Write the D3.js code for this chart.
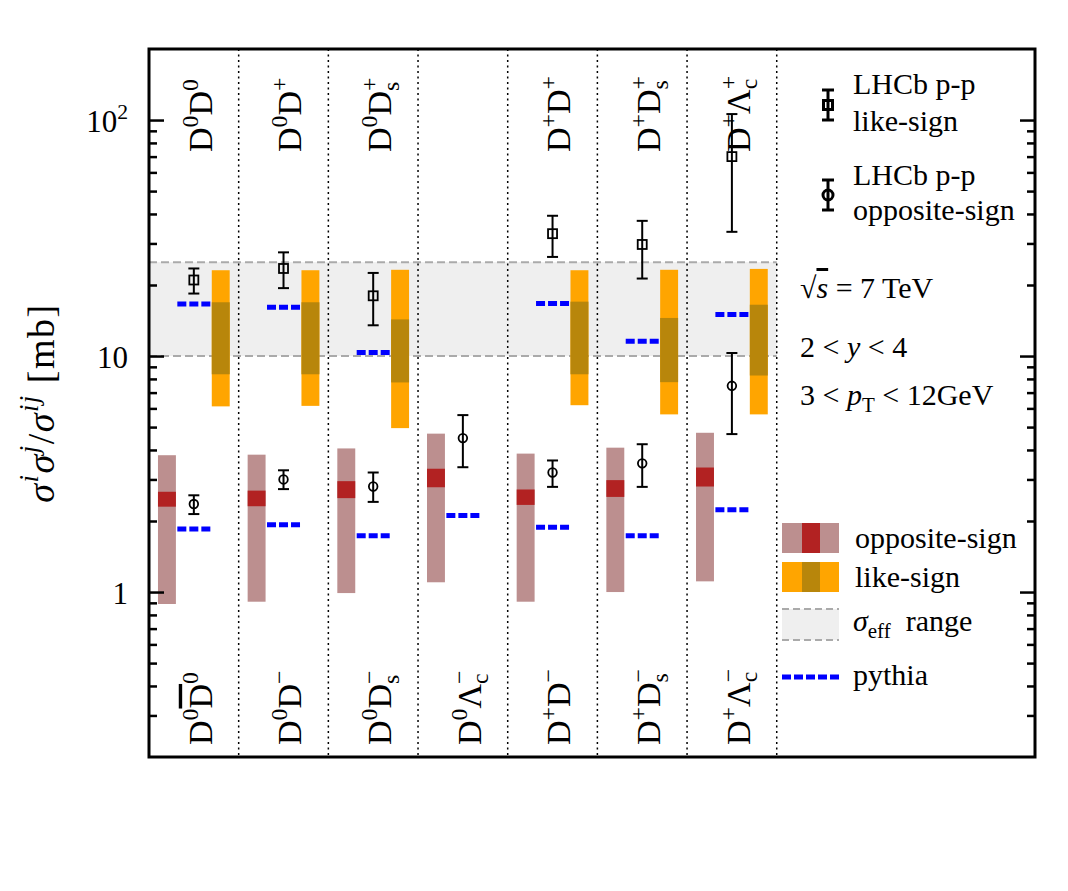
<!DOCTYPE html>
<html>
<head>
<meta charset="utf-8">
<script src="https://cdn.jsdelivr.net/npm/d3@7"></script>
<style>
  body { margin: 0; background: #fff; }
  svg { display: block; }
  text { font-family: 'Liberation Serif', 'DejaVu Serif', serif; white-space: pre; fill: #000; }
</style>
</head>
<body>
<svg width="1068" height="891"></svg>
<script>
// Pair labels per column: ^x superscript, _x subscript (stacked under a preceding superscript), ~x overline
const labelsLike = ['D^0D^0', 'D^0D^+', 'D^0D^+_s', '', 'D^+D^+', 'D^+D^+_s', 'D^+Λ^+_c'];
const labelsOpp = ['D^0~D^0', 'D^0D^−', 'D^0D^−_s', 'D^0Λ^−_c', 'D^+D^−', 'D^+D^−_s', 'D^+Λ^−_c'];

// opposite-sign: LHCb measurement, error range, model band (outer + core), pythia
const oppMeas = [2.36, 3.00, 2.80, 4.49, 3.21, 3.51, 7.48];
const oppErrLo = [2.14, 2.73, 2.41, 3.38, 2.79, 2.79, 4.67];
const oppErrHi = [2.57, 3.28, 3.21, 5.62, 3.61, 4.23, 10.3];
const oppBandLo = [0.89, 0.91, 0.99, 1.10, 0.91, 1.00, 1.11];
const oppBandHi = [3.80, 3.82, 4.06, 4.69, 3.86, 4.09, 4.73];
const oppCoreLo = [2.30, 2.31, 2.50, 2.78, 2.34, 2.53, 2.80];
const oppCoreHi = [2.66, 2.69, 2.95, 3.33, 2.72, 2.98, 3.37];
const oppPythia = [1.85, 1.93, 1.73, 2.11, 1.88, 1.73, 2.23];

// like-sign (no D0 Lambda_c pair)
const likeMeas = [21.0, 23.5, 18.0, null, 33.0, 29.7, 70.0];
const likeErrLo = [18.4, 19.4, 13.5, null, 26.3, 21.3, 33.6];
const likeErrHi = [23.5, 27.5, 22.5, null, 39.3, 37.4, 106];
const likeBandLo = [6.12, 6.15, 4.95, null, 6.19, 5.66, 5.66];
const likeBandHi = [23.1, 23.1, 23.2, null, 23.1, 23.2, 23.4];
const likeCoreLo = [8.37, 8.37, 7.73, null, 8.37, 7.75, 8.27];
const likeCoreHi = [16.9, 16.9, 14.3, null, 17.0, 14.5, 16.5];
const likePythia = [16.6, 16.1, 10.35, null, 16.7, 11.55, 15.0];

const sigmaEff = [10, 25];
const yTicks = [1, 10, 100];
const yTickLabels = ['1', '10', '10^2'];

const svg = d3.select('svg');
const frame = { left: 149, right: 1035, top: 49, bottom: 757 };
const xScale = d3.scaleLinear().domain([0, 9.88]).range([frame.left, frame.right]);
const yScale = d3.scaleLog().domain([0.2, 200]).range([frame.bottom, frame.top]);
const cols = d3.range(7);

function parseLabel(str) {
    const segs = [];
    let over = false;
    for (let i = 0; i < str.length; i++) {
        let c = str[i];
        if (c === '~') { over = true; continue; }
        if (c === '^') { segs.push({ t: str[++i], k: '^' }); continue; }
        if (c === '_') {
            const stacked = segs.length && segs[segs.length - 1].k === '^';
            segs.push({ t: str[++i], k: stacked ? '_|' : '_' });
            continue;
        }
        segs.push({ t: c, k: over ? 'o' : '' });
        over = false;
    }
    return segs;
}

function rich(text, segs, size) {
    let cur = 0, prev = null;
    segs.forEach(s => {
        const k = s.k || '';
        const sup = k.includes('^'), sub = k.includes('_');
        const target = sup ? -0.42 * size : sub ? 0.22 * size : 0;
        const ts = text.append('tspan').text(s.t)
            .attr('dy', target - cur)
            .style('font-size', (sup || sub ? 0.7 * size : size) + 'px')
            .style('font-style', k.includes('i') ? 'italic' : 'normal');
        if (k.includes('o')) ts.style('text-decoration', 'overline');
        if (k.includes('|') && prev) ts.attr('dx', -prev.node().getComputedTextLength());
        prev = ts;
        cur = target;
    });
}

// sigma_eff band
svg.append('rect')
    .attr('x', xScale(0)).attr('width', xScale(7) - xScale(0))
    .attr('y', yScale(sigmaEff[1])).attr('height', yScale(sigmaEff[0]) - yScale(sigmaEff[1]))
    .attr('fill', '#efefef');
svg.selectAll('line.eff')
    .data(sigmaEff)
    .join('line')
    .attr('x1', xScale(0)).attr('x2', xScale(7))
    .attr('y1', d => yScale(d)).attr('y2', d => yScale(d))
    .attr('stroke', '#aaa').attr('stroke-width', 2).attr('stroke-dasharray', '8,4');

// column separators
svg.selectAll('line.sep')
    .data(d3.range(1, 8))
    .join('line')
    .attr('x1', d => xScale(d)).attr('x2', d => xScale(d))
    .attr('y1', frame.top).attr('y2', frame.bottom)
    .attr('stroke', '#000').attr('stroke-width', 1.5).attr('stroke-dasharray', '2,3.5');

// model bands
function bands(lo, hi, clo, chi, off, c1, c2) {
    const idx = cols.filter(i => lo[i] !== null);
    svg.append('g').selectAll('rect')
        .data(idx)
        .join('rect')
        .attr('x', i => xScale(i + off)).attr('width', xScale(0.2) - xScale(0))
        .attr('y', i => yScale(hi[i])).attr('height', i => yScale(lo[i]) - yScale(hi[i]))
        .attr('fill', c1);
    svg.append('g').selectAll('rect')
        .data(idx)
        .join('rect')
        .attr('x', i => xScale(i + off)).attr('width', xScale(0.2) - xScale(0))
        .attr('y', i => yScale(chi[i])).attr('height', i => yScale(clo[i]) - yScale(chi[i]))
        .attr('fill', c2);
}
bands(oppBandLo, oppBandHi, oppCoreLo, oppCoreHi, 0.1, '#bc8f8f', '#b22222');
bands(likeBandLo, likeBandHi, likeCoreLo, likeCoreHi, 0.7, '#ffa500', '#b8860b');

// pythia
function pythia(vals) {
    svg.append('g').selectAll('line')
        .data(cols.filter(i => vals[i] !== null))
        .join('line')
        .attr('x1', i => xScale(i + 0.316)).attr('x2', i => xScale(i + 0.684))
        .attr('y1', i => yScale(vals[i])).attr('y2', i => yScale(vals[i]))
        .attr('stroke', '#0000ff').attr('stroke-width', 5).attr('stroke-dasharray', '9,3');
}
pythia(oppPythia);
pythia(likePythia);

// LHCb points with error bars
function points(meas, lo, hi, shape) {
    const idx = cols.filter(i => meas[i] !== null);
    const g = svg.append('g').attr('stroke', '#000').attr('fill', 'none');
    g.selectAll('line.bar').data(idx).join('line')
        .attr('x1', i => xScale(i + 0.5)).attr('x2', i => xScale(i + 0.5))
        .attr('y1', i => yScale(lo[i])).attr('y2', i => yScale(hi[i]))
        .attr('stroke-width', 2);
    [lo, hi].forEach(arr => {
        g.append('g').selectAll('line').data(idx).join('line')
            .attr('x1', i => xScale(i + 0.5) - 5.5).attr('x2', i => xScale(i + 0.5) + 5.5)
            .attr('y1', i => yScale(arr[i])).attr('y2', i => yScale(arr[i]))
            .attr('stroke-width', 2);
    });
    if (shape === 'square') {
        g.append('g').selectAll('rect').data(idx).join('rect')
            .attr('x', i => xScale(i + 0.5) - 4.5).attr('y', i => yScale(meas[i]) - 4.5)
            .attr('width', 9).attr('height', 9).attr('stroke-width', 1.8);
    } else {
        g.append('g').selectAll('circle').data(idx).join('circle')
            .attr('cx', i => xScale(i + 0.5)).attr('cy', i => yScale(meas[i]))
            .attr('r', 4.3).attr('stroke-width', 1.8);
    }
}
points(likeMeas, likeErrLo, likeErrHi, 'square');
points(oppMeas, oppErrLo, oppErrHi, 'circle');

// Pair labels
cols.forEach(i => {
    if (labelsLike[i]) {
        const t = svg.append('text')
            .attr('transform', `translate(${xScale(i + 0.7)},152) rotate(-90)`);
        rich(t, parseLabel(labelsLike[i]), 34);
    }
    const b = svg.append('text')
        .attr('transform', `translate(${xScale(i + 0.7)},745) rotate(-90)`);
    rich(b, parseLabel(labelsOpp[i]), 34);
});

// Axes (ticks inside on both sides)
const minorTicks = yScale.ticks().filter(v => !yTicks.includes(v) && v > 0.21 && v < 190);
[[d3.axisLeft, frame.left], [d3.axisRight, frame.right]].forEach(([axis, x]) => {
    [[minorTicks, -8], [yTicks, -15]].forEach(([vals, size]) => {
        const g = svg.append('g')
            .attr('transform', `translate(${x},0)`)
            .call(axis(yScale).tickValues(vals).tickSize(size).tickFormat(''));
        g.select('.domain').remove();
        g.selectAll('line').attr('stroke', '#000').attr('stroke-width', 2.5);
    });
});
yTicks.forEach((v, i) => {
    const t = svg.append('text')
        .attr('x', 128).attr('y', yScale(v) + 12)
        .style('text-anchor', 'end');
    rich(t, parseLabel(yTickLabels[i]), 31);
});

// Y label
const yl = svg.append('text')
    .attr('transform', `translate(54,${(frame.top + frame.bottom) / 2}) rotate(-90)`)
    .style('text-anchor', 'middle')
    .style('letter-spacing', '1.5px');
rich(yl, [{ t: 'σ', k: 'i' }, { t: 'i', k: '^i' }, { t: 'σ', k: 'i' }, { t: 'j', k: '^i' },
    { t: '/' }, { t: 'σ', k: 'i' }, { t: 'ij', k: '^i' }, { t: ' [mb]' }], 38);

// Legend: LHCb markers
function legendMarker(cx, cy, shape) {
    const g = svg.append('g').attr('stroke', '#000').attr('fill', 'none').attr('stroke-width', 3);
    g.append('line').attr('x1', cx).attr('x2', cx).attr('y1', cy - 15).attr('y2', cy + 15);
    g.append('line').attr('x1', cx - 6).attr('x2', cx + 6).attr('y1', cy - 15).attr('y2', cy - 15);
    g.append('line').attr('x1', cx - 6).attr('x2', cx + 6).attr('y1', cy + 15).attr('y2', cy + 15);
    if (shape === 'square') {
        g.append('rect').attr('x', cx - 4.5).attr('y', cy - 4.5).attr('width', 9).attr('height', 9);
    } else {
        g.append('circle').attr('cx', cx).attr('cy', cy).attr('r', 5);
    }
}
function legendText(x, y, segs) {
    const t = svg.append('text').attr('x', x).attr('y', y);
    rich(t, segs, 30);
}
legendMarker(828, 105, 'square');
legendText(853, 94, [{ t: 'LHCb p-p' }]);
legendText(853, 131, [{ t: 'like-sign' }]);
legendMarker(828, 195, 'circle');
legendText(853, 185, [{ t: 'LHCb p-p' }]);
legendText(853, 220, [{ t: 'opposite-sign' }]);

legendText(800, 298, [{ t: '√' }, { t: 's', k: 'io' }, { t: ' = 7 TeV' }]);
legendText(800, 357, [{ t: '2 < ' }, { t: 'y', k: 'i' }, { t: ' < 4' }]);
legendText(800, 405, [{ t: '3 < ' }, { t: 'p', k: 'i' }, { t: 'T', k: '_' }, { t: ' < 12GeV' }]);

// Legend: bands
const lx = 782, lw = 57;
[[523, '#bc8f8f', '#b22222', 'opposite-sign', 548], [562, '#ffa500', '#b8860b', 'like-sign', 587]]
    .forEach(([y, c1, c2, label, ty]) => {
        svg.append('rect').attr('x', lx).attr('y', y).attr('width', lw).attr('height', 30).attr('fill', c1);
        svg.append('rect').attr('x', lx + 20).attr('y', y).attr('width', 18).attr('height', 30).attr('fill', c2);
        legendText(855, ty, [{ t: label }]);
    });
svg.append('rect').attr('x', lx).attr('y', 609).attr('width', lw).attr('height', 31).attr('fill', '#efefef');
[609, 640].forEach(y => {
    svg.append('line').attr('x1', lx).attr('x2', lx + lw).attr('y1', y).attr('y2', y)
        .attr('stroke', '#aaa').attr('stroke-width', 2).attr('stroke-dasharray', '7,4');
});
legendText(853, 631, [{ t: 'σ', k: 'i' }, { t: 'eff', k: '_' }, { t: '  range' }]);
svg.append('line').attr('x1', lx).attr('x2', lx + 57).attr('y1', 677).attr('y2', 677)
    .attr('stroke', '#0000ff').attr('stroke-width', 5).attr('stroke-dasharray', '9,3');
legendText(853, 685, [{ t: 'pythia' }]);

// Frame
svg.append('rect')
    .attr('x', frame.left).attr('y', frame.top)
    .attr('width', frame.right - frame.left).attr('height', frame.bottom - frame.top)
    .attr('fill', 'none').attr('stroke', '#000').attr('stroke-width', 3);
</script>
</body>
</html>
